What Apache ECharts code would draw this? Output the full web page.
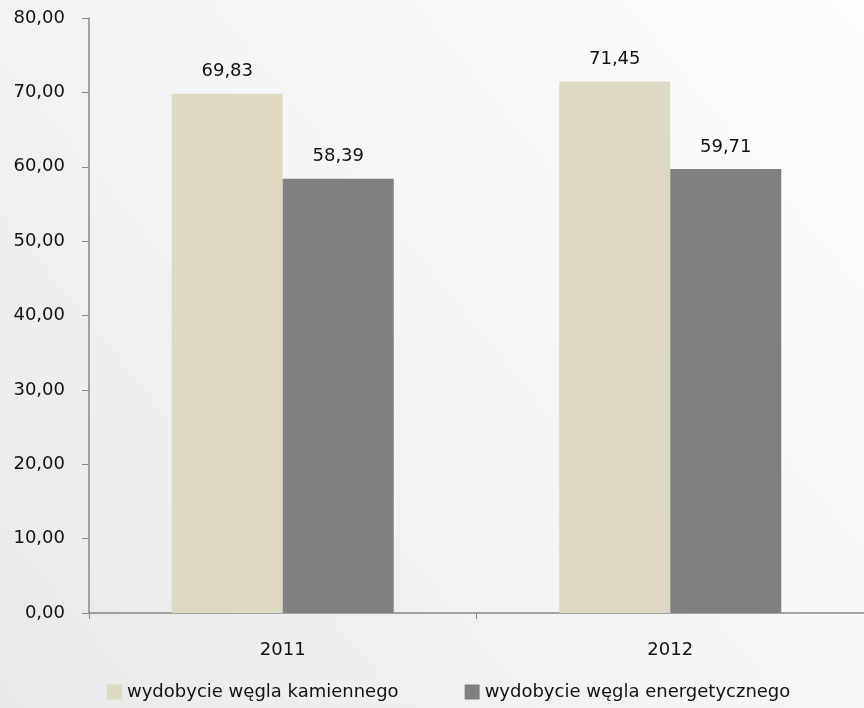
<!DOCTYPE html>
<html><head><meta charset="utf-8">
<script src="https://cdn.jsdelivr.net/npm/echarts@6/dist/echarts.min.js"></script>
<style>html,body{margin:0;padding:0;}#c{width:864px;height:708px;}</style>
</head><body><div id="c"></div>
<script>
const categories = ['2011', '2012'];
const seriesNames = ['wydobycie węgla kamiennego', 'wydobycie węgla energetycznego'];
const kamienny = [69.83, 71.45];
const energetyczny = [58.39, 59.71];
const yTicks = { min: 0, max: 80, interval: 10 };

const font = 'DejaVu Sans';
const fmt = v => Number(v).toFixed(2).replace('.', ',');
const chart = echarts.init(document.getElementById('c'));
chart.setOption({
  animation: false,
  backgroundColor: { type: 'linear', x: 0, y: 1, x2: 1, y2: 0, colorStops: [
    { offset: 0, color: '#e8e8e8' }, { offset: 0.55, color: '#f6f6f6' }, { offset: 1, color: '#fdfdfd' } ] },
  textStyle: { fontFamily: font },
  grid: { left: 89, top: 18, width: 777, bottom: 95, containLabel: false },
  legend: {
    bottom: 2, left: 102, itemWidth: 15, itemHeight: 15, itemGap: 66,
    icon: 'rect',
    textStyle: { fontFamily: font, fontSize: 18, color: '#111' },
    data: seriesNames
  },
  xAxis: {
    type: 'category', data: categories,
    axisLine: { lineStyle: { color: '#888', width: 1.5 } },
    axisTick: { show: true, length: 6, lineStyle: { color: '#888' } },
    axisLabel: { fontFamily: font, fontSize: 18, color: '#111', margin: 28 }
  },
  yAxis: {
    type: 'value', min: yTicks.min, max: yTicks.max, interval: yTicks.interval,
    axisLine: { show: true, lineStyle: { color: '#888', width: 1.5 } },
    axisTick: { show: true, length: 7, lineStyle: { color: '#888' } },
    splitLine: { show: false },
    axisLabel: { fontFamily: font, fontSize: 18, color: '#111', margin: 24, formatter: fmt }
  },
  series: [
    { name: seriesNames[0], type: 'bar', data: kamienny, barWidth: 111, barGap: '0%',
      itemStyle: { color: '#ddd9c4' },
      label: { show: true, position: 'top', distance: 13, fontFamily: font, fontSize: 18, color: '#111', formatter: p => fmt(p.value) } },
    { name: seriesNames[1], type: 'bar', data: energetyczny, barWidth: 111, barGap: '0%',
      itemStyle: { color: '#808080' },
      label: { show: true, position: 'top', distance: 13, fontFamily: font, fontSize: 18, color: '#111', formatter: p => fmt(p.value) } }
  ]
});
</script></body></html>
